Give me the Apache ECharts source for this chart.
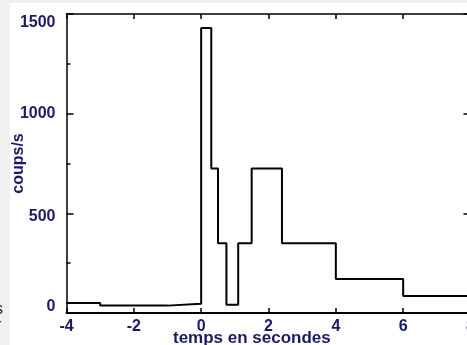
<!DOCTYPE html>
<html>
<head>
<meta charset="utf-8">
<script src="https://cdn.jsdelivr.net/npm/echarts@6/dist/echarts.min.js"></script>
<style>
html,body{margin:0;padding:0;background:#f0f0f0;}
#c{width:467px;height:345px;}
</style>
</head>
<body>
<div id="c"></div>
<script>
// Bin left edges (s) and count rates (coups/s); last edge closes the final bin
const binEdges = [-4, -3, -1, 0, 0.3, 0.5, 0.75, 1.1, 1.5, 2.4, 4, 6, 8];
const rates = [50, 37, 47, 1430, 725, 350, 42, 350, 725, 350, 170, 85];
const xTicks = [-4, -2, 0, 2, 4, 6, 8];
const yTicks = [0, 500, 1000, 1500];
const xTitle = 'temps en secondes';
const yTitle = 'coups/s';

const pts = binEdges.map((x, i) => [x, i < rates.length ? rates[i] : rates[rates.length - 1]]);

const navy = '#1a1a66';
const font = '"Liberation Sans", Arial, sans-serif';
const lblStyle = {color: navy, fontWeight: 'bold', fontSize: 16, fontFamily: font};
const chart = echarts.init(document.getElementById('c'), null, {renderer: 'canvas'});

chart.setOption({
  animation: false,
  backgroundColor: '#f0f0f0',
  graphic: [
    {type: 'rect', z: -10, shape: {x: 10, y: 3, width: 470, height: 350}, style: {fill: '#ffffff'}},
    {type: 'text', left: -3, top: 276, style: {text: 'i', fill: '#222', font: '16px ' + font}},
    {type: 'text', left: -5, top: 302, style: {text: 's', fill: '#222', font: '16px ' + font}},
    {type: 'text', left: -4, top: 318, style: {text: 'r', fill: '#222', font: '16px ' + font}},
    {type: 'text', left: 173, top: 330, style: {text: xTitle, fill: navy, font: 'bold 17px ' + font}}
  ],
  grid: {left: 66.5, top: 14, width: 404, height: 299, containLabel: false, outerBoundsMode: 'none'},
  xAxis: [
    {
      type: 'value', min: -4, max: 8, interval: 2, position: 'bottom',
      axisLine: {show: true, onZero: false, lineStyle: {color: '#000', width: 2}},
      axisTick: {show: true, inside: true, length: 5, lineStyle: {color: '#000', width: 1.5}},
      axisLabel: Object.assign({margin: 6, formatter: v => xTicks.includes(v) ? String(v) : ''}, lblStyle),
      splitLine: {show: false}
    },
    {
      type: 'value', min: -4, max: 8, interval: 2, position: 'top',
      axisLine: {show: true, onZero: false, lineStyle: {color: '#000', width: 1.5}},
      axisTick: {show: true, inside: true, length: 5, lineStyle: {color: '#000', width: 1.5}},
      axisLabel: {show: false},
      splitLine: {show: false}
    }
  ],
  yAxis: [
    {
      type: 'value', min: 0, max: 1500, interval: 500, position: 'left',
      name: yTitle, nameLocation: 'middle', nameGap: 40, nameRotate: 90, nameMoveOverlap: false,
      nameTextStyle: lblStyle,
      axisLine: {show: true, onZero: false, lineStyle: {color: '#000', width: 1.5}},
      axisTick: {show: true, inside: true, length: 7, lineStyle: {color: '#000', width: 1.5}},
      minorTick: {show: true, splitNumber: 2, length: 4, lineStyle: {color: '#000', width: 1.5}},
      axisLabel: Object.assign({
        margin: 11,
        formatter: v => {
          if (!yTicks.includes(v)) return '';
          if (v === 1500) return '{t|' + v + '}';
          if (v === 500) return '{m|' + v + '}';
          if (v === 0) return '{z|' + v + '}';
          return String(v);
        },
        rich: {
          t: Object.assign({padding: [18, 0, 0, 0]}, lblStyle),
          m: Object.assign({padding: [6, 0, 0, 0]}, lblStyle),
          z: Object.assign({padding: [0, 0, 12, 0]}, lblStyle)
        }
      }, lblStyle),
      splitLine: {show: false}
    },
    {
      type: 'value', min: 0, max: 1500, interval: 500, position: 'right',
      axisLine: {show: true, onZero: false, lineStyle: {color: '#000', width: 1.5}},
      axisTick: {show: true, inside: true, length: 7, lineStyle: {color: '#000', width: 1.5}},
      axisLabel: {show: false},
      splitLine: {show: false}
    }
  ],
  series: [{
    type: 'line', step: 'end', data: pts, showSymbol: false, symbol: 'none',
    lineStyle: {color: '#000', width: 2}
  }]
});
</script>
</body>
</html>
